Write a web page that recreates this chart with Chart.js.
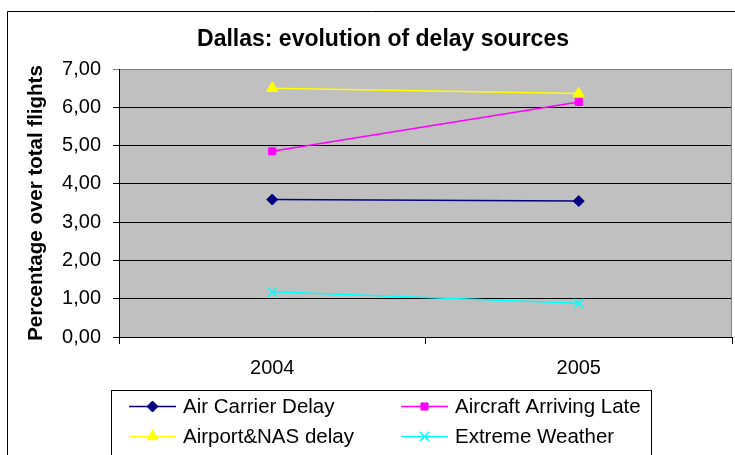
<!DOCTYPE html>
<html>
<head>
<meta charset="utf-8">
<script src="https://cdn.jsdelivr.net/npm/chart.js@4/dist/chart.umd.min.js"></script>
<style>
  html, body { margin: 0; padding: 0; background: #fff; }
  #wrap { width: 735px; height: 455px; position: relative; }
</style>
</head>
<body>
<div id="wrap"><canvas id="c" width="735" height="455"></canvas></div>
<script>
// Delay sources at Dallas, share of total flights (%)
const years = ['2004', '2005'];
const airCarrierDelay = [3.59, 3.55];
const aircraftArrivingLate = [4.85, 6.14];
const airportNasDelay = [6.50, 6.36];
const extremeWeather = [1.18, 0.88];
const yTicks = [0, 1, 2, 3, 4, 5, 6, 7];

const chartTitle = 'Dallas: evolution of delay sources';
const yTitle = 'Percentage over total flights';

const FONT = '"Liberation Sans", Arial, sans-serif';

// later series are painted over earlier ones
const datasets = [
  { label: 'Air Carrier Delay', data: airCarrierDelay, borderColor: '#000080', backgroundColor: '#000080',
    pointStyle: 'rectRot', pointRadius: 5.5, pointBorderWidth: 1, order: 3 },
  { label: 'Aircraft Arriving Late', data: aircraftArrivingLate, borderColor: '#FF00FF', backgroundColor: '#FF00FF',
    pointStyle: 'rect', pointRadius: 5, pointBorderWidth: 1, order: 2 },
  { label: 'Airport&NAS delay', data: airportNasDelay, borderColor: '#FFFF00', backgroundColor: '#FFFF00',
    pointStyle: 'triangle', pointRadius: 6.5, pointBorderWidth: 1, order: 1 },
  { label: 'Extreme Weather', data: extremeWeather, borderColor: '#00FFFF', backgroundColor: '#00FFFF',
    pointStyle: 'crossRot', pointRadius: 6.5, pointBorderWidth: 1.5, order: 0 }
].map(d => Object.assign({ borderWidth: 1.5, tension: 0, fill: false, pointHoverRadius: d.pointRadius }, d));

const frame = {
  id: 'frame',
  beforeDraw(chart) {
    const { ctx, chartArea: a } = chart;
    ctx.save();
    ctx.fillStyle = '#fff';
    ctx.fillRect(0, 0, chart.width, chart.height);
    // outer chart border
    ctx.strokeStyle = '#000';
    ctx.lineWidth = 1;
    ctx.beginPath();
    ctx.moveTo(7.5, chart.height + 2);
    ctx.lineTo(7.5, 11.5);
    ctx.lineTo(chart.width + 2, 11.5);
    ctx.stroke();
    // plot area
    ctx.fillStyle = '#C0C0C0';
    ctx.fillRect(a.left, a.top, a.right - a.left, a.bottom - a.top);
    ctx.restore();
  },
  beforeDatasetsDraw(chart) {
    const { ctx, chartArea: a } = chart;
    ctx.save();
    ctx.strokeStyle = '#808080';
    ctx.lineWidth = 1;
    ctx.beginPath();
    ctx.moveTo(Math.round(a.right) - 0.5, Math.round(a.top) + 0.5);
    ctx.lineTo(Math.round(a.right) - 0.5, Math.round(a.bottom));
    ctx.stroke();
    ctx.restore();
  },
  afterDraw(chart) {
    const { ctx } = chart;
    ctx.save();
    // title
    ctx.fillStyle = '#000';
    ctx.font = 'bold 23px ' + FONT;
    ctx.textAlign = 'center';
    ctx.textBaseline = 'middle';
    ctx.fillText(chartTitle, 383, 40);

    // legend box
    const box = { x: 111.5, y: 390.5, w: 540, h: 80 };
    ctx.strokeStyle = '#000';
    ctx.lineWidth = 1;
    ctx.strokeRect(box.x, box.y, box.w, box.h);
    const cols = [129, 401];
    const rows = [406.5, 436.5];
    chart.data.datasets.forEach((ds, i) => {
      const x0 = cols[i % 2], y = rows[Math.floor(i / 2)];
      ctx.save();
      ctx.strokeStyle = ds.borderColor;
      ctx.lineWidth = 1.5;
      ctx.beginPath();
      ctx.moveTo(x0, y);
      ctx.lineTo(x0 + 47, y);
      ctx.stroke();
      ctx.fillStyle = ds.backgroundColor;
      ctx.strokeStyle = ds.borderColor;
      ctx.lineWidth = ds.pointBorderWidth;
      Chart.helpers.drawPoint(ctx, {
        pointStyle: ds.pointStyle, radius: ds.pointRadius, rotation: 0,
        borderWidth: ds.pointBorderWidth
      }, x0 + 23.5, y);
      ctx.fillStyle = '#000';
      ctx.font = '20.5px ' + FONT;
      ctx.textAlign = 'left';
      ctx.textBaseline = 'middle';
      ctx.fillText(ds.label, x0 + 54, y + 1);
      ctx.restore();
    });
    ctx.restore();
  }
};

new Chart(document.getElementById('c'), {
  type: 'line',
  data: { labels: years, datasets },
  plugins: [frame],
  options: {
    responsive: false,
    animation: false,
    devicePixelRatio: 1,
    layout: { autoPadding: false, padding: { left: 0, top: 69, right: 3, bottom: 0 } },
    plugins: {
      legend: { display: false },
      title: { display: false },
      tooltip: { enabled: false }
    },
    scales: {
      x: {
        type: 'category',
        offset: true,
        afterFit(s) { s.height = 118; },
        grid: { offset: true, drawOnChartArea: false, drawTicks: true, tickLength: 7, color: '#000', lineWidth: 1 },
        border: { display: true, color: '#000', width: 1 },
        ticks: { color: '#000', font: { family: FONT, size: 20 }, padding: 12, maxRotation: 0 }
      },
      y: {
        min: 0,
        max: 7,
        afterFit(s) { s.width = 119; },
        afterBuildTicks(s) { s.ticks = yTicks.map(v => ({ value: v })); },
        grid: {
          color: c => (c.tick && c.tick.value === 7 ? '#808080' : '#000'),
          lineWidth: 1, drawTicks: true, tickLength: 6
        },
        border: { display: true, color: '#000', width: 1 },
        ticks: {
          color: '#000', font: { family: FONT, size: 20 }, padding: 12,
          callback: v => v.toFixed(2).replace('.', ',')
        },
        title: {
          display: true, text: yTitle, color: '#000',
          font: { family: FONT, size: 20.5, weight: 'bold' },
          padding: { top: 24, bottom: 0 }
        }
      }
    }
  }
});
</script>
</body>
</html>
